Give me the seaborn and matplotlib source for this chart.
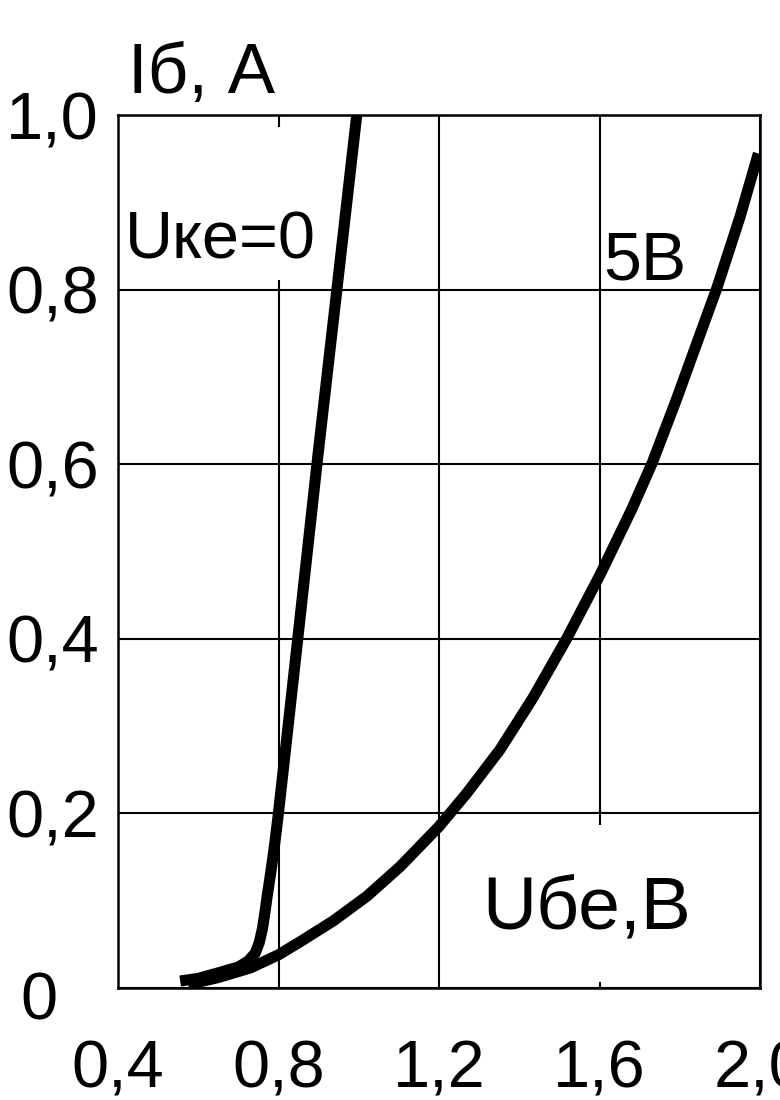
import matplotlib
matplotlib.use("Agg")
import matplotlib.pyplot as plt
import matplotlib.transforms as mtransforms
import seaborn as sns
import pandas as pd
from matplotlib.patches import Rectangle

# ---- data ----
uke0_x = [0.555, 0.600, 0.647, 0.700, 0.725, 0.742, 0.752, 0.760, 0.766, 0.772,
          0.780, 0.790, 0.799, 0.809, 0.848, 0.886, 0.896, 0.946, 0.995]
uke0_y = [0.008, 0.011, 0.017, 0.024, 0.031, 0.040, 0.052, 0.068, 0.086, 0.106,
          0.130, 0.163, 0.197, 0.238, 0.400, 0.559, 0.601, 0.802, 1.000]

u5_x = [0.575, 0.650, 0.730, 0.800, 0.854, 0.937, 1.020, 1.103, 1.200, 1.269,
        1.352, 1.435, 1.518, 1.601, 1.680, 1.731, 1.790, 1.850, 1.892, 1.950, 1.996]
u5_y = [0.004, 0.012, 0.023, 0.038, 0.053, 0.077, 0.105, 0.139, 0.185, 0.223,
        0.273, 0.333, 0.400, 0.473, 0.548, 0.601, 0.672, 0.748, 0.801, 0.883, 0.956]

x_ticks = [0.4, 0.8, 1.2, 1.6, 2.0]
x_tick_labels = ["0,4", "0,8", "1,2", "1,6", "2,0"]
y_ticks = [0.0, 0.2, 0.4, 0.6, 0.8, 1.0]
y_tick_labels = ["0", "0,2", "0,4", "0,6", "0,8", "1,0"]

title_text = "Iб, А"
x_label_text = "Uбе,В"
label_uke0 = "Uке=0"
label_5v = "5В"

df = pd.concat([
    pd.DataFrame({"U": uke0_x, "I": uke0_y, "s": "0"}),
    pd.DataFrame({"U": u5_x, "I": u5_y, "s": "5"}),
])

sns.set_theme(style="white")
plt.rcParams["font.family"] = ["Liberation Sans", "DejaVu Sans"]
plt.rcParams["text.color"] = "black"
plt.rcParams["xtick.color"] = "black"
plt.rcParams["ytick.color"] = "black"
plt.rcParams["axes.labelcolor"] = "black"

fig = plt.figure(figsize=(7.8, 11), dpi=100)
ax = fig.add_axes([118 / 780, 112 / 1100, 642 / 780, 873 / 1100])

# white boxes behind labels (they hide the grid lines there)
ax.add_patch(Rectangle((0.003, 0.811), 0.483, 0.175, transform=ax.transAxes,
                       facecolor="white", edgecolor="none", zorder=1.5))
ax.add_patch(Rectangle((0.512, 0.007), 0.480, 0.180, transform=ax.transAxes,
                       facecolor="white", edgecolor="none", zorder=1.5))

sns.lineplot(data=df, x="U", y="I", units="s", estimator=None, sort=False,
             color="black", linewidth=8, ax=ax, zorder=3,
             solid_capstyle="butt", solid_joinstyle="round")

ax.set_xlim(0.4, 2.0)
ax.set_ylim(0.0, 1.0)
ax.set_xticks(x_ticks)
ax.set_xticklabels(x_tick_labels)
ax.set_yticks(y_ticks)
ax.set_yticklabels(y_tick_labels, ha="center")
ax.tick_params(axis="x", length=0, pad=37, labelsize=48, labelcolor="black")
ax.tick_params(axis="y", length=0, pad=47, labelsize=48, labelcolor="black")
ax.set_xlabel("")
ax.set_ylabel("")

# the "0" label sits a little further left and lower in the reference
zero_lbl = ax.get_yticklabels()[0]
zero_lbl.set_transform(zero_lbl.get_transform() +
                       mtransforms.ScaledTranslation(-14 / 100, -8 / 100,
                                                     fig.dpi_scale_trans))

ax.grid(True, color="black", linewidth=1.5, zorder=1)
ax.set_axisbelow(True)
for sp in ax.spines.values():
    sp.set_color("black")
    sp.set_linewidth(1.8)
    sp.set_zorder(4)

ax.text(0.011, 0.836, label_uke0, transform=ax.transAxes, fontsize=48,
        ha="left", va="baseline", zorder=5, color="black")
ax.text(0.756, 0.811, label_5v, transform=ax.transAxes, fontsize=49,
        ha="left", va="baseline", zorder=5, color="black")
ax.text(0.567, 0.0687, x_label_text, transform=ax.transAxes, fontsize=54,
        ha="left", va="baseline", zorder=5, color="black")
fig.text(128 / 780, 1 - 93 / 1100, title_text, fontsize=51,
         ha="left", va="baseline", color="black")

fig.savefig("out.png", dpi=100)
